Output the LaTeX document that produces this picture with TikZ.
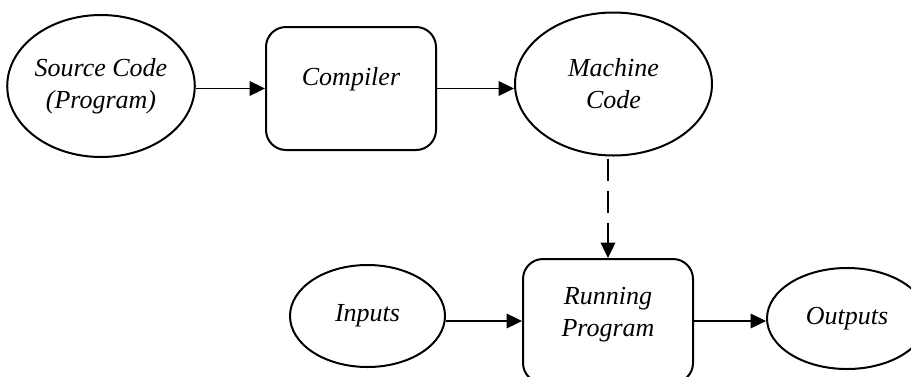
\documentclass[tikz,border=0pt]{standalone}
\usepackage{fontspec}
\setmainfont{Liberation Serif}
\usetikzlibrary{shapes.geometric,arrows.meta}

\tikzset{
  shapeline/.style={draw=black, line width=1.5pt, fill=white},
  oval/.style={shapeline, ellipse, inner sep=0pt},
  procbox/.style={shapeline, rectangle, rounded corners=15pt, inner sep=0pt},
  txt/.style={font=\fontsize{19.5}{24}\selectfont\itshape, align=center, inner sep=0pt},
  flow/.style={draw=black, line width=0.8pt, -{Triangle[length=11.5pt,width=11pt]}},
  flowdash/.style={flow, dash pattern=on 16.5pt off 7.5pt}
}

\begin{document}
\begin{tikzpicture}[x=0.75pt, y=-0.75pt]
  \useasboundingbox (0,0) rectangle (911,376);

  % top row: source -> compiler -> machine code
  \node[oval, txt, minimum width=182*0.75pt, minimum height=142*0.75pt]
    (src) at (101,86) {Source Code\\(Program)};
  \node[procbox, minimum width=170*0.75pt, minimum height=123*0.75pt]
    (cmp) at (351,88.5) {};
  \node[txt] (cmptxt) at (351,79) {Compiler};
  \node[oval, txt, minimum width=197*0.75pt, minimum height=143*0.75pt]
    (mc) at (613.5,84) {Machine\\Code};

  % bottom row: inputs -> running program -> outputs
  \node[oval, txt, minimum width=155*0.75pt, minimum height=102*0.75pt]
    (inp) at (367.5,316) {Inputs};
  \node[procbox, minimum width=170*0.75pt, minimum height=124*0.75pt]
    (rp) at (608,321) {};
  \node[txt] (rptxt) at (608,315) {Running\\Program};
  \node[oval, txt, minimum width=160*0.75pt, minimum height=101*0.75pt]
    (out) at (847,318.5) {Outputs};

  % connectors
  \draw[flow] (cmp.west -| src.east) -- (cmp.west);
  \draw[flow] (cmp.east) -- (cmp.east -| mc.west);
  \draw[flowdash, shorten <=2pt] (mc.south -| rp.north) -- (rp.north);
  \draw[flow] (rp.west -| inp.east) -- (rp.west);
  \draw[flow] (rp.east) -- (rp.east -| out.west);
\end{tikzpicture}
\end{document}
